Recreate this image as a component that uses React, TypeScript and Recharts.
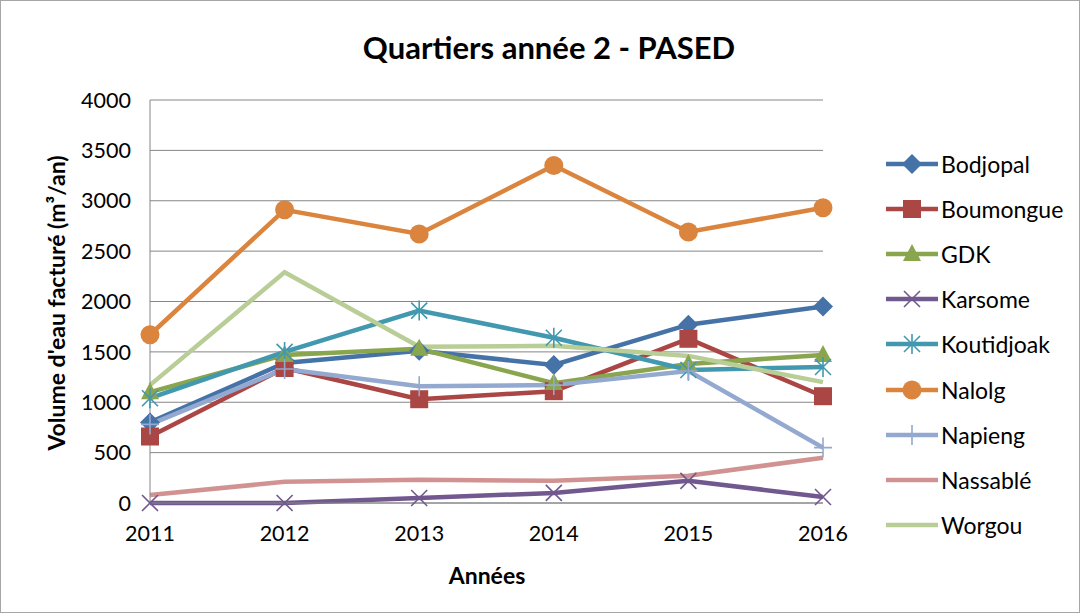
import React from "react";
import {
  LineChart,
  Line,
  XAxis,
  YAxis,
  CartesianGrid,
  Legend,
} from "recharts";

// ─── Data ─────────────────────────────────────────────────────────────────────

const years = ["2011", "2012", "2013", "2014", "2015", "2016"];

const bodjopal = [800, 1390, 1510, 1370, 1770, 1950];
const boumongue = [660, 1340, 1030, 1110, 1630, 1060];
const gdk = [1100, 1470, 1530, 1190, 1380, 1470];
const karsome = [0, 0, 50, 100, 220, 60];
const koutidjoak = [1040, 1500, 1910, 1640, 1320, 1350];
const nalolg = [1670, 2910, 2670, 3350, 2690, 2930];
const napieng = [780, 1330, 1160, 1170, 1310, 550];
const nassable = [80, 210, 230, 220, 270, 450];
const worgou = [1170, 2290, 1550, 1560, 1460, 1200];

const yTicks = [0, 500, 1000, 1500, 2000, 2500, 3000, 3500, 4000];

type Marker = "diamond" | "square" | "triangle" | "x" | "star" | "circle" | "plus" | "none";

const SERIES: { key: string; name: string; values: number[]; color: string; marker: Marker }[] = [
  { key: "bodjopal", name: "Bodjopal", values: bodjopal, color: "#4572A7", marker: "diamond" },
  { key: "boumongue", name: "Boumongue", values: boumongue, color: "#AA4643", marker: "square" },
  { key: "gdk", name: "GDK", values: gdk, color: "#89A54E", marker: "triangle" },
  { key: "karsome", name: "Karsome", values: karsome, color: "#71588F", marker: "x" },
  { key: "koutidjoak", name: "Koutidjoak", values: koutidjoak, color: "#4198AF", marker: "star" },
  { key: "nalolg", name: "Nalolg", values: nalolg, color: "#DB843D", marker: "circle" },
  { key: "napieng", name: "Napieng", values: napieng, color: "#93A9CF", marker: "plus" },
  { key: "nassable", name: "Nassablé", values: nassable, color: "#D19392", marker: "none" },
  { key: "worgou", name: "Worgou", values: worgou, color: "#B9CD96", marker: "none" },
];

const data = years.map((year, i) => {
  const row: Record<string, string | number> = { year };
  for (const s of SERIES) row[s.key] = s.values[i];
  return row;
});

const FONT = "Lato, 'Open Sans', sans-serif";

// ─── Markers ──────────────────────────────────────────────────────────────────

function markerShape(kind: Marker, cx: number, cy: number, color: string, key?: string) {
  switch (kind) {
    case "diamond":
      return (
        <path key={key} d={`M${cx},${cy - 10} L${cx + 10},${cy} L${cx},${cy + 10} L${cx - 10},${cy} Z`} fill={color} />
      );
    case "square":
      return <rect key={key} x={cx - 9} y={cy - 9} width={18} height={18} fill={color} />;
    case "triangle":
      return (
        <path key={key} d={`M${cx},${cy - 10} L${cx + 9},${cy + 7} L${cx - 9},${cy + 7} Z`} fill={color} />
      );
    case "x":
      return (
        <path
          key={key}
          d={`M${cx - 8},${cy - 8} L${cx + 8},${cy + 8} M${cx + 8},${cy - 8} L${cx - 8},${cy + 8}`}
          stroke={color}
          strokeWidth={1.6}
          fill="none"
        />
      );
    case "star":
      return (
        <path
          key={key}
          d={`M${cx - 8},${cy - 8} L${cx + 8},${cy + 8} M${cx + 8},${cy - 8} L${cx - 8},${cy + 8} M${cx},${cy - 10} L${cx},${cy + 10}`}
          stroke={color}
          strokeWidth={1.6}
          fill="none"
        />
      );
    case "circle":
      return <circle key={key} cx={cx} cy={cy} r={9.5} fill={color} />;
    case "plus":
      return (
        <path
          key={key}
          d={`M${cx - 9},${cy} L${cx + 9},${cy} M${cx},${cy - 10} L${cx},${cy + 10}`}
          stroke={color}
          strokeWidth={1.6}
          fill="none"
        />
      );
    default:
      return <g key={key} />;
  }
}

function renderDot(kind: Marker, color: string) {
  return (props: any) => {
    const { cx, cy, index } = props;
    if (cx == null || cy == null) return <g key={`d-${index}`} />;
    return markerShape(kind, cx, cy, color, `d-${index}`);
  };
}

// ─── Legend ───────────────────────────────────────────────────────────────────

function LegendContent() {
  return (
    <div style={{ fontFamily: FONT, fontSize: 23, color: "#000" }}>
      {SERIES.map((s) => (
        <div key={s.key} style={{ display: "flex", alignItems: "center", height: 45.2 }}>
          <svg width={56} height={24} style={{ overflow: "visible" }}>
            <line x1={2} y1={12} x2={54} y2={12} stroke={s.color} strokeWidth={4.5} />
            {markerShape(s.marker, 28, 12, s.color)}
          </svg>
          <span style={{ marginLeft: 1 }}>{s.name}</span>
        </div>
      ))}
    </div>
  );
}

// ─── Component ────────────────────────────────────────────────────────────────

export default function App() {
  return (
    <div
      style={{
        position: "absolute",
        left: 0,
        top: 0,
        width: 1078,
        height: 611,
        border: "1px solid #A6A6A6",
        background: "#fff",
        fontFamily: FONT,
      }}
    >
      <div
        style={{
          position: "absolute",
          left: 0,
          width: 1078,
          top: 27,
          textAlign: "center",
          fontSize: 31,
          fontWeight: 700,
          paddingLeft: 18,
          boxSizing: "border-box",
        }}
      >
        Quartiers année 2 - PASED
      </div>
      <div
        style={{
          position: "absolute",
          left: 55,
          top: 302,
          transform: "translate(-50%, -50%) rotate(-90deg)",
          whiteSpace: "nowrap",
          fontSize: 23,
          fontWeight: 700,
        }}
      >
        Volume d'eau facturé (m³/an)
      </div>
      <div
        style={{
          position: "absolute",
          left: 486,
          top: 574,
          transform: "translate(-50%, -50%)",
          fontSize: 23,
          fontWeight: 700,
        }}
      >
        Années
      </div>
      <LineChart
        width={1078}
        height={611}
        data={data}
        margin={{ top: 99, right: 56, left: 70, bottom: 79 }}
      >
        <CartesianGrid vertical={false} stroke="#868686" strokeWidth={1} />
        <XAxis
          dataKey="year"
          stroke="#868686"
          tickLine={false}
          height={30}
          tick={{ fill: "#000", fontSize: 21.5, fontFamily: FONT, dy: 15 }}
          interval={0}
        />
        <YAxis
          domain={[0, 4000]}
          ticks={yTicks}
          width={79}
          stroke="#868686"
          tickLine={false}
          tick={{ fill: "#000", fontSize: 21.5, fontFamily: FONT, dx: -11 }}
        />
        <Legend
          layout="vertical"
          align="right"
          verticalAlign="top"
          content={<LegendContent />}
          wrapperStyle={{ left: 883, top: 140, width: 200 }}
        />
        {SERIES.map((s) => (
          <Line
            key={s.key}
            dataKey={s.key}
            name={s.name}
            stroke={s.color}
            strokeWidth={4.5}
            dot={renderDot(s.marker, s.color)}
            activeDot={false}
            isAnimationActive={false}
          />
        ))}
      </LineChart>
    </div>
  );
}
